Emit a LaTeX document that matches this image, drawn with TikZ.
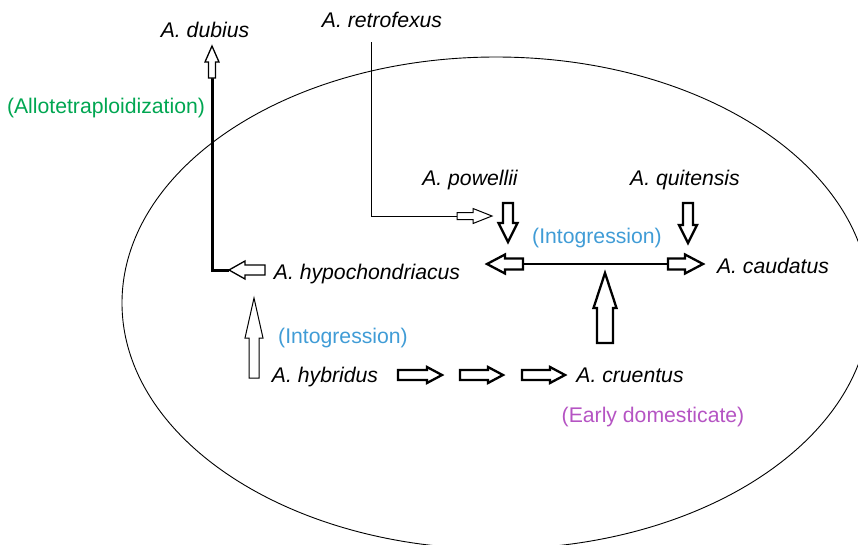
\documentclass[tikz,border=0pt]{standalone}
\usepackage{fontspec}
\setmainfont{Liberation Sans}
\definecolor{cgreen}{RGB}{0,166,81}
\definecolor{cblue}{RGB}{64,156,214}
\definecolor{cpurple}{RGB}{181,84,195}
\newcommand\barr[7]{%
  \begin{scope}[shift={(#1)},rotate=#2]
    \draw[line width=#7,line join=miter,fill=white]
      (0,-#4) -- ({#3-#6},-#4) -- ({#3-#6},-#5) -- (#3,0) -- ({#3-#6},#5) -- ({#3-#6},#4) -- (0,#4) -- cycle;
  \end{scope}}
\tikzset{
  sp/.style={font=\fontsize{21.2}{25}\selectfont\itshape, anchor=base, inner sep=0pt},
  lab/.style={font=\fontsize{21.2}{25}\selectfont, anchor=base, inner sep=0pt},
}
\begin{document}
\begin{tikzpicture}[x=1pt,y=-1pt]
\useasboundingbox (0,0) rectangle (858,544);
\begin{scope}
  \clip (0,0) rectangle (858,544);
  \draw[line width=0.9pt] (496,303) ellipse [x radius=374, y radius=246];
\end{scope}
% labels
\node[sp] (dub) at (205,37) {A. dubius};
\node[sp] (ret) at (382,27) {A. retrofexus};
\node[lab,text=cgreen] (allo) at (106,113) {(Allotetraploidization)};
\node[sp] (pow) at (470,185) {A. powellii};
\node[sp] (qui) at (685,185) {A. quitensis};
\node[lab,text=cblue] (int1) at (597,243) {(Intogression)};
\node[sp] (hyp) at (367,279) {A. hypochondriacus};
\node[sp] (cau) at (773,273) {A. caudatus};
\node[lab,text=cblue] (int2) at (343,343) {(Intogression)};
\node[sp] (hyb) at (325,382) {A. hybridus};
\node[sp] (cru) at (630,382) {A. cruentus};
\node[lab,text=cpurple] (early) at (653,422) {(Early domesticate)};
% coordinates
\coordinate (dubtail) at (212,78);
\coordinate (corner1) at (212,270);
\coordinate (hyptail) at (265,270);
\coordinate (rettop) at (371,42);
\coordinate (corner2) at (371,216);
\coordinate (rettail) at (457,216);
\coordinate (hl) at (523,264);
\coordinate (hr) at (668,264);
% dubius
\draw[line width=3pt] (dubtail) -- (corner1) -- (229,270);
\barr{dubtail}{90}{32}{3.5}{7}{16}{1.3pt}
\barr{hyptail}{180}{36}{5}{9}{16}{1.3pt}
% retrofexus
\draw[line width=0.8pt] (rettop) -- (corner2) -- (rettail);
\barr{rettail}{0}{35}{3.5}{7.5}{19}{1pt}
% powellii, quitensis
\barr{508,203}{-90}{39}{5}{9.5}{19}{2.3pt}
\barr{688,203}{-90}{40}{5}{9}{18}{2.3pt}
% horizontal
\draw[line width=2.5pt] (hl) -- (hr);
\barr{hl}{180}{36}{5.5}{9.5}{18}{2.3pt}
\barr{hr}{0}{35}{5.5}{9.5}{18}{2.3pt}
% cruentus up
\barr{605,343}{90}{70}{8}{11.5}{35}{2.3pt}
% hybridus up
\barr{254,378}{90}{80}{5}{9}{40}{1pt}
% three right arrows
\barr{398,375}{0}{44}{5}{8}{15}{2.3pt}
\barr{460,375}{0}{43}{5}{8}{15}{2.3pt}
\barr{522,375}{0}{43}{5}{8}{15}{2.3pt}
\end{tikzpicture}
\end{document}
